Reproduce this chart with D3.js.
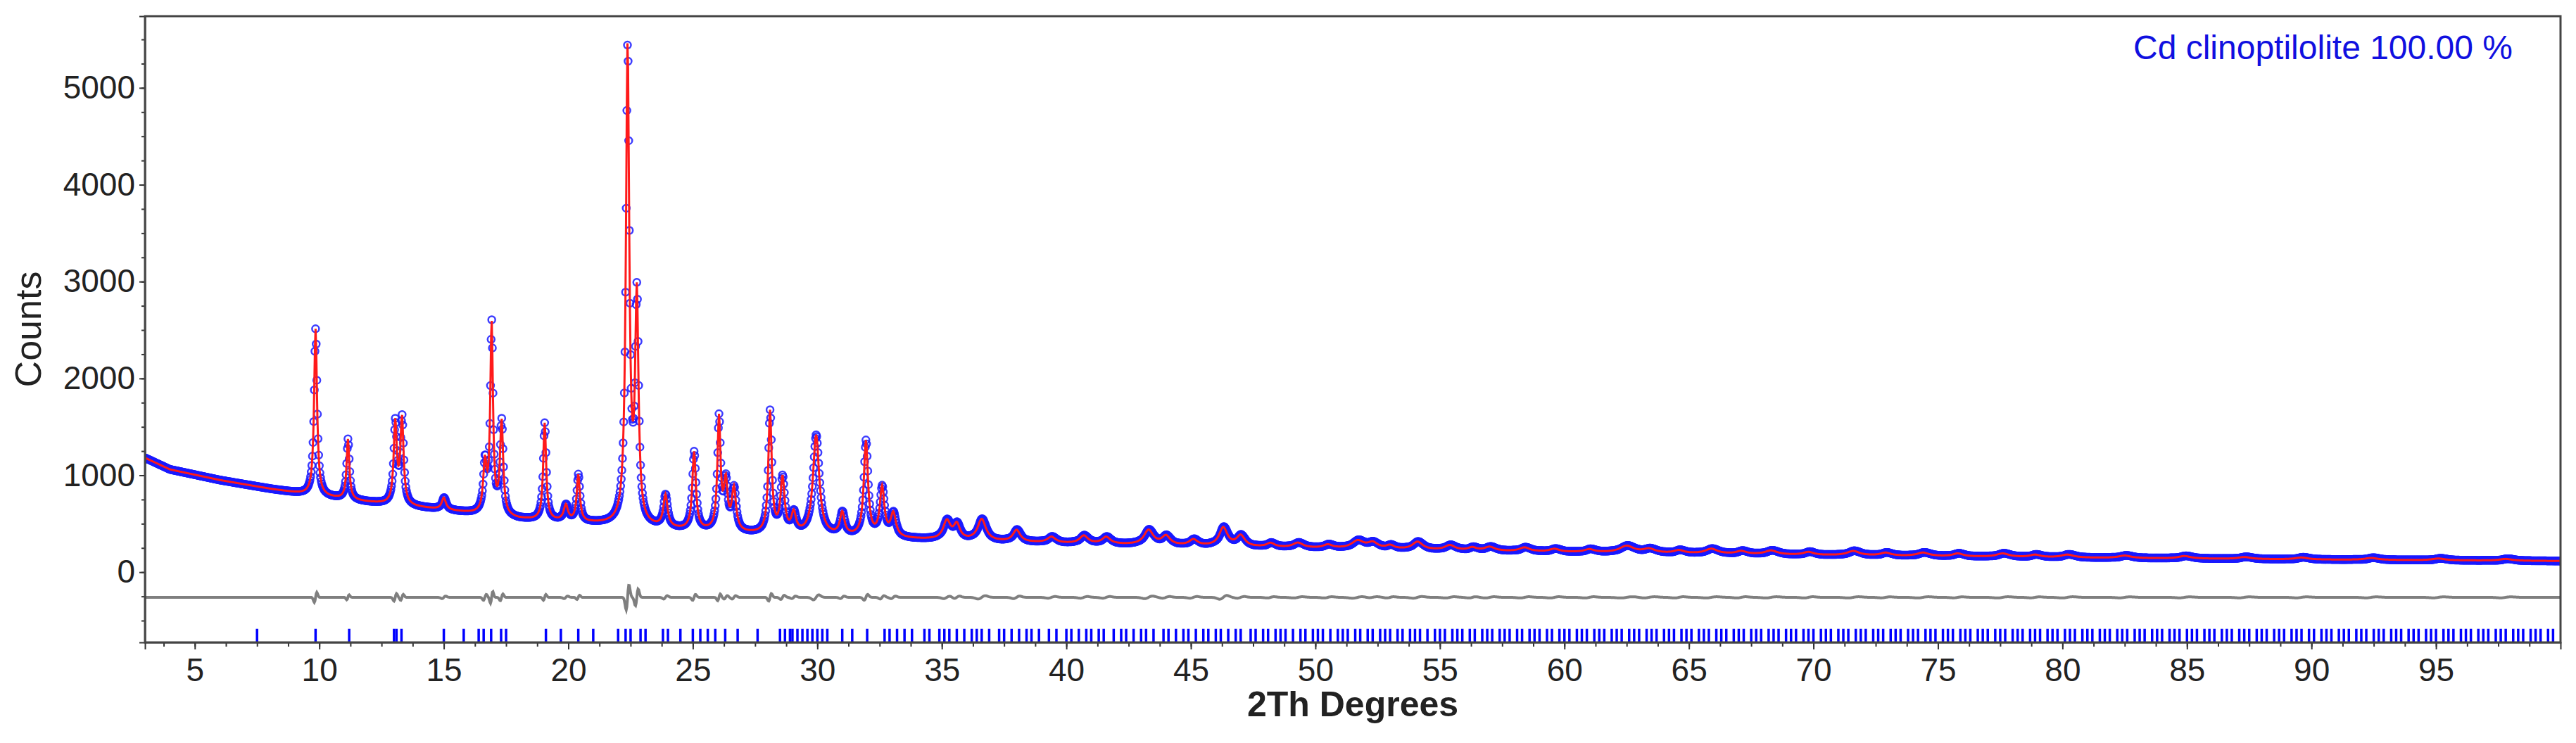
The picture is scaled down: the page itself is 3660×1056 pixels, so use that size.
<!DOCTYPE html>
<html lang="en">
<head>
<meta charset="UTF-8">
<title>Cd clinoptilolite Rietveld</title>
<style>
  body { background: white; margin: 0; padding: 0; }
  text { font-family: "Liberation Sans", Arial, sans-serif; }
  .axis text { font-size: 46px; fill: #222; }
  .axis path, .axis line { stroke: #333; stroke-width: 2; }
</style>
</head>
<body>
<script src="https://cdn.jsdelivr.net/npm/d3@7/dist/d3.min.js"></script>
<script>
// background knots [2theta, counts]
var bgPos = [3, 4, 6, 8, 9.5, 12, 15, 18, 21, 24, 27, 30, 35, 40, 45, 50, 60, 70, 80, 90, 100];
var bgVal = [1180, 1060, 950, 860, 800, 720, 640, 545, 500, 440, 395, 370, 330, 295, 270, 245, 205, 175, 150, 130, 115];

// peaks: position, height above background, fwhm, misfit (residual amplitude)
var peakPos = [9.85, 11.15, 13.05, 13.32, 15.0, 16.65, 16.92, 17.32, 19.05, 19.9, 20.4, 22.38, 22.75, 23.9, 25.05, 26.05, 26.32, 26.65,
  28.1, 28.6, 29.05, 29.95, 31.0, 31.95, 32.6, 33.05, 35.2, 35.6, 36.6, 38.0, 39.4, 40.7, 41.6, 43.3, 44.0, 45.1, 46.3, 47.0,
  48.2, 49.3, 50.5, 51.7, 52.3, 53.0, 54.1, 55.4, 56.3, 57.0, 58.4, 59.6, 61.0, 62.5, 63.4, 64.6, 65.9, 67.1, 68.3, 69.8,
  71.6, 72.9, 74.4, 75.8, 77.6, 78.9, 80.2, 82.5, 84.9, 87.3, 89.6, 92.4, 95.1, 97.8];
var peakHeight = [1720, 620, 830, 880, 120, 500, 1950, 960, 1000, 160, 480, 4900, 2300, 330, 800, 1150, 480, 430,
  1250, 560, 200, 1030, 230, 980, 500, 240, 190, 150, 220, 120, 60, 80, 70, 150, 90, 60, 190, 110,
  40, 50, 35, 80, 60, 35, 80, 50, 30, 40, 40, 30, 30, 70, 40, 30, 50, 30, 40, 30,
  45, 30, 35, 30, 35, 25, 30, 25, 25, 20, 20, 20, 18, 18];
var peakWidth = [0.14, 0.13, 0.15, 0.15, 0.2, 0.16, 0.13, 0.15, 0.14, 0.2, 0.15, 0.16, 0.16, 0.2, 0.17, 0.15, 0.18, 0.2,
  0.16, 0.2, 0.22, 0.3, 0.22, 0.2, 0.22, 0.25, 0.35, 0.3, 0.4, 0.35, 0.4, 0.4, 0.4, 0.45, 0.4, 0.4, 0.4, 0.4,
  0.4, 0.5, 0.45, 0.6, 0.5, 0.4, 0.5, 0.5, 0.4, 0.5, 0.5, 0.5, 0.5, 0.7, 0.6, 0.5, 0.6, 0.5, 0.6, 0.5,
  0.6, 0.5, 0.6, 0.5, 0.6, 0.5, 0.6, 0.6, 0.6, 0.6, 0.6, 0.6, 0.6, 0.6];
var peakMisfit = [120, 60, 90, 70, 30, 70, 140, 80, 70, 30, 50, 300, 200, 40, 70, 80, 40, 40,
  90, 50, 30, 60, 30, 70, 40, 30, 30, 30, 40, 30, 20, 20, 20, 30, 20, 20, 45, 20,
  15, 15, 15, 20, 15, 15, 20, 15, 15, 15, 15, 15, 15, 15, 15, 15, 15, 15, 15, 15,
  15, 12, 15, 12, 15, 12, 15, 12, 12, 12, 12, 12, 12, 12];

// reflection markers (2theta)
var reflections = [7.5, 9.85, 11.2, 13.0, 13.1, 13.3, 15.0, 15.8, 16.4, 16.6, 16.9, 17.3, 17.5, 19.1, 19.7, 20.4, 21.0,
  22.0, 22.3, 22.5, 22.9, 23.1, 23.8, 24.0, 24.5, 25.0, 25.3, 25.6, 25.9, 26.3, 26.8, 27.6,
  28.5, 28.7, 28.9, 29.0, 29.2, 29.4, 29.6, 29.8, 30.0, 30.2, 30.4, 31.0, 31.4, 32.0, 32.7, 32.9, 33.2, 33.5, 33.8,
  34.3, 34.5, 34.9, 35.1, 35.3, 35.6, 35.9, 36.2, 36.4, 36.6, 36.9, 37.3, 37.5, 37.8, 38.1, 38.4, 38.6, 38.9, 39.3, 39.6,
  40.0, 40.2, 40.5, 40.8, 41.0, 41.3, 41.5, 41.9, 42.2, 42.4, 42.7, 43.0, 43.2, 43.5, 43.9, 44.1, 44.4, 44.7, 44.9,
  45.2, 45.5, 45.7, 46.0, 46.2, 46.5, 46.8, 47.0, 47.4, 47.6, 47.9, 48.1, 48.4, 48.6, 48.8, 49.1, 49.4, 49.6, 49.9,
  50.1, 50.3, 50.6, 50.9, 51.1, 51.3, 51.6, 51.8, 52.1, 52.3, 52.6, 52.8, 53.0, 53.3, 53.5, 53.8, 54.0, 54.2, 54.5, 54.8,
  55.0, 55.2, 55.5, 55.7, 55.9, 56.2, 56.4, 56.7, 56.9, 57.1, 57.4, 57.6, 57.8, 58.1, 58.3, 58.6, 58.8, 59.0, 59.3, 59.5, 59.8,
  60.0, 60.2, 60.5, 60.7, 60.9, 61.2, 61.4, 61.6, 61.9, 62.1, 62.3, 62.6, 62.8, 63.0, 63.3, 63.5, 63.7, 64.0, 64.2, 64.4, 64.7, 64.9,
  65.1, 65.4, 65.6, 65.8, 66.1, 66.3, 66.5, 66.8, 67.0, 67.2, 67.5, 67.7, 67.9, 68.2, 68.4, 68.6, 68.9, 69.1, 69.3, 69.6, 69.8,
  70.0, 70.3, 70.5, 70.7, 71.0, 71.2, 71.4, 71.7, 71.9, 72.1, 72.4, 72.6, 72.8, 73.1, 73.3, 73.5, 73.8, 74.0, 74.2, 74.5, 74.7, 74.9,
  75.2, 75.4, 75.6, 75.9, 76.1, 76.3, 76.6, 76.8, 77.0, 77.3, 77.5, 77.7, 78.0, 78.2, 78.4, 78.7, 78.9, 79.1, 79.4, 79.6, 79.8,
  80.1, 80.3, 80.5, 80.8, 81.0, 81.2, 81.5, 81.7, 81.9, 82.2, 82.4, 82.6, 82.9, 83.1, 83.3, 83.6, 83.8, 84.0, 84.3, 84.5, 84.7,
  85.0, 85.2, 85.4, 85.7, 85.9, 86.1, 86.4, 86.6, 86.8, 87.1, 87.3, 87.5, 87.8, 88.0, 88.2, 88.5, 88.7, 88.9, 89.2, 89.4, 89.6,
  89.9, 90.1, 90.4, 90.6, 90.8, 91.1, 91.3, 91.5, 91.8, 92.0, 92.2, 92.5, 92.7, 92.9, 93.2, 93.4, 93.6, 93.9, 94.1, 94.3, 94.6,
  94.8, 95.0, 95.3, 95.5, 95.7, 96.0, 96.2, 96.4, 96.7, 96.9, 97.1, 97.4, 97.6, 97.8, 98.1, 98.3, 98.5, 98.8, 99.0, 99.2, 99.5, 99.7];

var xTicks = [5, 10, 15, 20, 25, 30, 35, 40, 45, 50, 55, 60, 65, 70, 75, 80, 85, 90, 95];
var yTicks = [0, 1000, 2000, 3000, 4000, 5000];
var diffOffset = -260;
var phaseLabel = 'Cd clinoptilolite 100.00 %';

var W = 3660, H = 1056;
var m = { left: 206, right: 22, top: 23, bottom: 143 };

var svg = d3.select('body').append('svg').attr('width', W).attr('height', H);

var x = d3.scaleLinear().domain([3, 100]).range([m.left, W - m.right]);
var y = d3.scaleLinear().domain([-725, 5740]).range([H - m.bottom, m.top]);
var bg = d3.scaleLinear().domain(bgPos).range(bgVal);

function lorentz(t, p, w) {
  var d = (t - p) / (w / 2);
  return 1 / (1 + d * d);
}
function calc(t) {
  var s = bg(t);
  peakPos.forEach(function(p, i) { s += peakHeight[i] * lorentz(t, p, peakWidth[i]); });
  return s;
}
function misfit(t) {
  var s = 0;
  peakPos.forEach(function(p, i) {
    var d = (t - p) / (peakWidth[i] / 2);
    s += peakMisfit[i] * d * Math.exp(-d * d);
  });
  return s;
}

var steps = d3.range(3, 100.001, 0.025);
var pts = steps.map(function(t) {
  var c = calc(t), mf = misfit(t);
  return { t: t, calc: c, obs: c + mf, diff: mf };
});

var plot = svg.append('g');
plot.append('clipPath').attr('id', 'clip').append('rect')
  .attr('x', m.left).attr('y', m.top).attr('width', W - m.left - m.right).attr('height', H - m.top - m.bottom);
var inner = plot.append('g').attr('clip-path', 'url(#clip)');

// difference curve
inner.append('path').datum(pts)
  .attr('fill', 'none').attr('stroke', '#7f7f7f').attr('stroke-width', 4)
  .attr('d', d3.line().x(function(d) { return x(d.t); }).y(function(d) { return y(diffOffset + d.diff); }));

// observed points
inner.append('g').selectAll('circle').data(pts).enter().append('circle')
  .attr('cx', function(d) { return x(d.t); })
  .attr('cy', function(d) { return y(d.obs); })
  .attr('r', 5)
  .attr('fill', 'none').attr('stroke', '#1a1aff').attr('stroke-width', 2.5).attr('stroke-opacity', 0.85);

// calculated curve
inner.append('path').datum(pts)
  .attr('fill', 'none').attr('stroke', '#ff1a1a').attr('stroke-width', 3)
  .attr('d', d3.line().x(function(d) { return x(d.t); }).y(function(d) { return y(d.calc); }));

// reflection markers
inner.append('g').selectAll('line').data(reflections).enter().append('line')
  .attr('x1', function(d) { return x(d); }).attr('x2', function(d) { return x(d); })
  .attr('y1', y(-585)).attr('y2', y(-725))
  .attr('stroke', '#0000ff').attr('stroke-width', 3.5);

// axes
svg.append('g').attr('class', 'axis').attr('transform', 'translate(0,' + (H - m.bottom) + ')')
  .call(d3.axisBottom(x).tickValues(xTicks).tickSize(10).tickPadding(12).tickFormat(d3.format('d')));
svg.append('g').attr('class', 'axis').attr('transform', 'translate(0,' + (H - m.bottom) + ')')
  .call(d3.axisBottom(x).tickValues(d3.range(3.75, 100, 1.25)).tickSize(6).tickFormat(''))
  .select('.domain').remove();
svg.append('g').attr('class', 'axis').attr('transform', 'translate(' + m.left + ',0)')
  .call(d3.axisLeft(y).tickValues(yTicks).tickSize(8).tickPadding(6).tickFormat(d3.format('d')));
svg.append('g').attr('class', 'axis').attr('transform', 'translate(' + m.left + ',0)')
  .call(d3.axisLeft(y).tickValues(d3.range(-500, 5750, 250)).tickSize(5).tickFormat(''))
  .select('.domain').remove();

// frame
svg.append('rect').attr('x', m.left).attr('y', m.top)
  .attr('width', W - m.left - m.right).attr('height', H - m.top - m.bottom)
  .attr('fill', 'none').attr('stroke', '#444').attr('stroke-width', 3);

// titles
svg.append('text').attr('x', (m.left + W - m.right) / 2).attr('y', 1018)
  .attr('text-anchor', 'middle').attr('font-size', 50).attr('font-weight', 'bold').attr('fill', '#222')
  .text('2Th Degrees');
svg.append('text').attr('transform', 'translate(58,' + ((m.top + H - m.bottom) / 2) + ') rotate(-90)')
  .attr('text-anchor', 'middle').attr('font-size', 52).attr('fill', '#222')
  .text('Counts');
svg.append('text').attr('x', W - m.right - 68).attr('y', 84)
  .attr('text-anchor', 'end').attr('font-size', 48).attr('fill', '#1010e0')
  .text(phaseLabel);
</script>
</body>
</html>
